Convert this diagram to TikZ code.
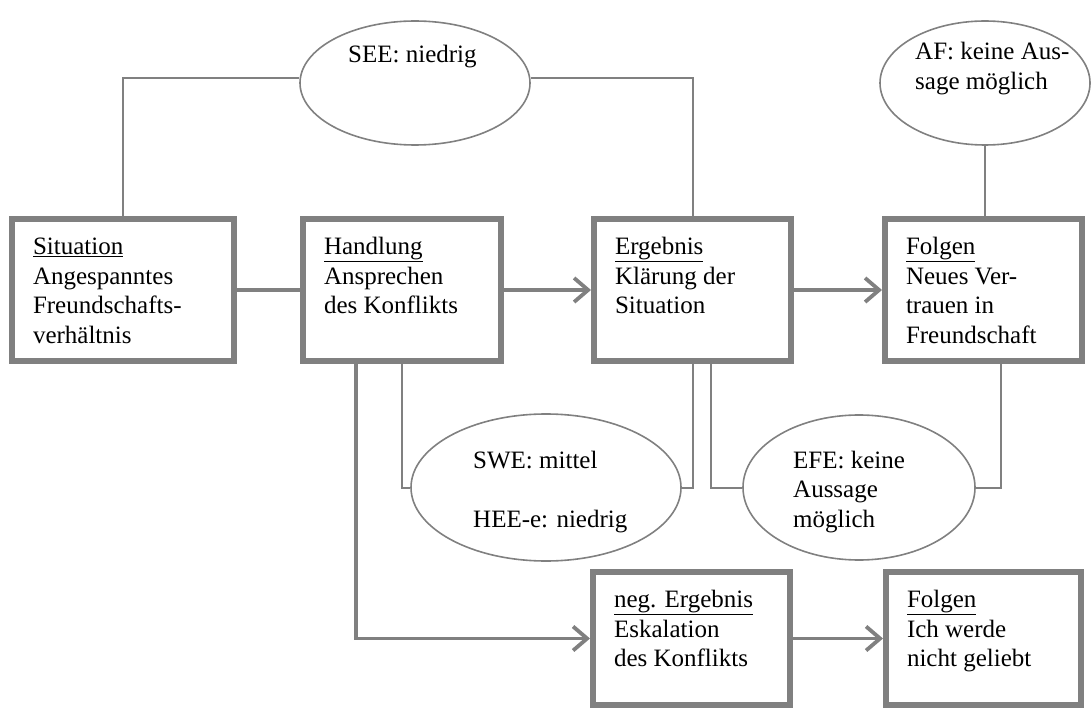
\documentclass[tikz,border=0pt]{standalone}
\usepackage{fontspec}
\setmainfont{Liberation Serif}
\usetikzlibrary{arrows.meta,shapes.geometric,calc}

\definecolor{frame}{gray}{0.5}

% top-aligned text block of fixed size inside a box
\newcommand\cardtext[3]{\parbox[c][#2][t]{#1}{\raggedright\strut#3}}

\begin{document}
\begin{tikzpicture}[x=1pt,y=-1pt,
  font=\fontsize{25}{29.5}\selectfont,
  card/.style={draw=frame, line width=6pt, inner xsep=21pt, inner ysep=15pt, fill=white},
  bubble/.style={draw=frame, line width=1.6pt, ellipse, inner sep=0pt},
  label text/.style={inner sep=0pt, anchor=base west},
  link/.style={draw=frame, line width=2pt},
  conn/.style={draw=frame, line width=3.8pt},
  flow/.style={conn, -{Straight Barb[length=14pt,width=24pt]}},
  ]
\useasboundingbox (0,0) rectangle (1092,711);

% boxes of the main chain
\node[card] (sit)  at (123,290)    {\cardtext{180pt}{112pt}{\underline{Situation}\\Angespanntes\\Freundschafts-\\verhältnis}};
\node[card] (hand) at (402,290)    {\cardtext{156pt}{112pt}{\underline{Handlung}\\Ansprechen\\des Konflikts}};
\node[card] (erg)  at (692.5,290)  {\cardtext{155pt}{112pt}{\underline{Ergebnis}\\Klärung der\\Situation}};
\node[card] (folg) at (983.5,290)  {\cardtext{155pt}{112pt}{\underline{Folgen}\\Neues Ver-\\trauen in\\Freundschaft}};

% negative branch
\node[card] (neg)   at (691.5,638.5) {\cardtext{155pt}{103pt}{\underline{neg. Ergebnis}\\Eskalation\\des Konflikts}};
\node[card] (folg2) at (983.5,638.5) {\cardtext{153pt}{103pt}{\underline{Folgen}\\Ich werde\\nicht geliebt}};

% assessment ellipses
\node[bubble, minimum width=230pt, minimum height=124pt] (see) at (415,83) {};
\node[label text] (seet) at (348,63) {SEE: niedrig};

\node[bubble, minimum width=210pt, minimum height=124pt] (af) at (985,83) {};
\node[label text] (aft) at (915,60) {\parbox[t]{170pt}{AF: keine Aus-\\sage möglich}};

\node[bubble, minimum width=270pt, minimum height=147pt] (swe) at (546,487.5) {};
\node[label text] (swet) at (473,468) {\parbox[t]{200pt}{SWE: mittel\\[29.5pt]HEE-e: niedrig}};

\node[bubble, minimum width=232pt, minimum height=145pt] (efe) at (859,487.5) {};
\node[label text] (efet) at (793,468) {\parbox[t]{150pt}{EFE: keine\\Aussage\\möglich}};

% flow connectors
\draw[conn] (sit) -- (hand);
\draw[flow] (hand) -- (erg);
\draw[flow] (erg) -- (folg);
\draw[flow] ([xshift=-46pt]hand.south) |- (neg.west);
\draw[flow] (neg) -- (folg2);

% ellipse links
\draw[link] (sit.north) |- ([yshift=5pt]see.west);
\draw[link] (erg.north) |- ([yshift=5pt]see.east);
\draw[link] (af.south) -- (af.south |- folg.north);
\draw[link] (hand.south) |- (swe.west);
\draw[link] (erg.south) |- (swe.east);
\draw[link] ([xshift=18pt]erg.south) |- (efe.west);
\draw[link] ([xshift=17.5pt]folg.south) |- (efe.east);
\end{tikzpicture}
\end{document}
